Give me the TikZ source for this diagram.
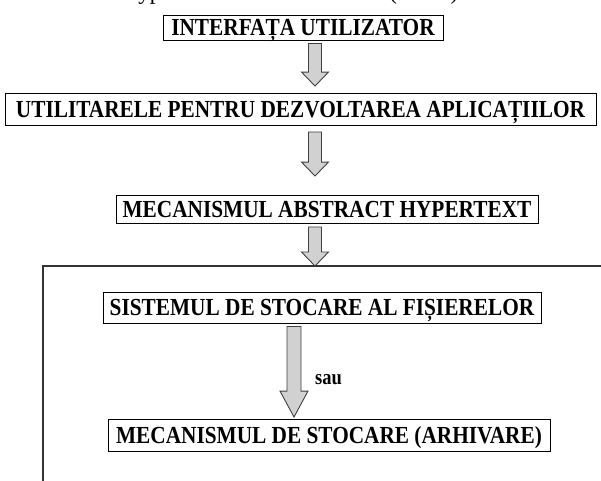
\documentclass[tikz,border=0pt]{standalone}
\usepackage{fontspec}
\setmainfont{Liberation Serif}
\usetikzlibrary{calc}
\tikzset{
  box/.style={draw=black, line width=0.9pt, fill=white,
    font=\bfseries\fontsize{21.3pt}{25pt}\selectfont,
    inner xsep=2pt, inner ysep=0pt, text height=16pt, text depth=0pt, align=center},
  garrow/.style={draw=black!75, fill=black!18, line width=0.9pt, line join=miter},
  frameline/.style={draw=black!80, line width=1.4pt},
  caption/.style={anchor=base west, inner sep=0pt},
}
% slightly tall lettering
\newcommand{\tall}[1]{\scalebox{1}[1.15]{#1}}
% grey block arrow: start of shaft, tip, half shaft width, half head width, head length
\newcommand{\grayarrow}[5]{%
  \filldraw[garrow] let \p1=(#1), \p2=(#2) in
    (\x1-#3,\y1) -- (\x1+#3,\y1) -- (\x1+#3,\y2+#5) -- (\x1+#4,\y2+#5) -- (\x2,\y2)
    -- (\x1-#4,\y2+#5) -- (\x1-#3,\y2+#5) -- cycle;
}
\begin{document}
\begin{tikzpicture}[x=1pt,y=-1pt]
\useasboundingbox (0,0) rectangle (601,480);
\clip (0,0) rectangle (601,480);

% heading line, cut by the top edge: only its descenders remain
\node[caption, font=\fontsize{23pt}{26pt}\selectfont] (title) at (121.5,-0.6)
  {Hypertext Abstract Machine (HAM)};

% layers
\node[box, minimum width=280pt, minimum height=25pt] (b1) at (303,27.5) {\tall{INTERFAȚA UTILIZATOR}};
\node[box, minimum width=591pt, minimum height=32pt] (b2) at (300.5,109.5) {\tall{UTILITARELE PENTRU DEZVOLTAREA APLICAȚIILOR}};
\node[box, minimum width=422pt, minimum height=28pt] (b3) at (327,209.5) {\tall{MECANISMUL ABSTRACT HYPERTEXT}};
\node[box, minimum width=438pt, minimum height=31pt] (b4) at (322,307.5) {\tall{SISTEMUL DE STOCARE AL FIȘIERELOR}};
\node[box, minimum width=442pt, minimum height=32pt] (b5) at (329,435) {\tall{MECANISMUL DE STOCARE (ARHIVARE)}};

% open frame around the storage layer
\coordinate (fc) at (43,266);
\coordinate (fbl) at (43,490);
\coordinate (ftr) at (611,266);
\draw[frameline] (fbl) -- (fc) -- (ftr);

% arrow columns
\coordinate (colA) at (315,0);
\coordinate (colB) at (294,0);

\coordinate (a1s) at ([yshift=-3pt]b1.south -| colA);
\coordinate (a1e) at ([yshift=7pt]b2.north -| colA);
\coordinate (a2s) at ([yshift=-6pt]b2.south -| colA);
\coordinate (a2e) at ([yshift=19pt]b3.north -| colA);
\coordinate (a3s) at ([yshift=-3pt]b3.south -| colA);
\coordinate (a3e) at (fc -| colA);
\coordinate (a4s) at ([yshift=-3pt]b4.south -| colB);
\coordinate (a4e) at ([yshift=1.5pt]b5.north -| colB);

\grayarrow{a1s}{a1e}{6.5pt}{13.5pt}{14pt}
\grayarrow{a2s}{a2e}{6.5pt}{13.5pt}{14pt}
\grayarrow{a3s}{a3e}{6.5pt}{13.5pt}{14pt}
\grayarrow{a4s}{a4e}{7pt}{14pt}{26pt}

\node[caption, font=\bfseries\fontsize{18.5pt}{20pt}\selectfont] (sau) at (315,384) {\tall{sau}};
\end{tikzpicture}
\end{document}
